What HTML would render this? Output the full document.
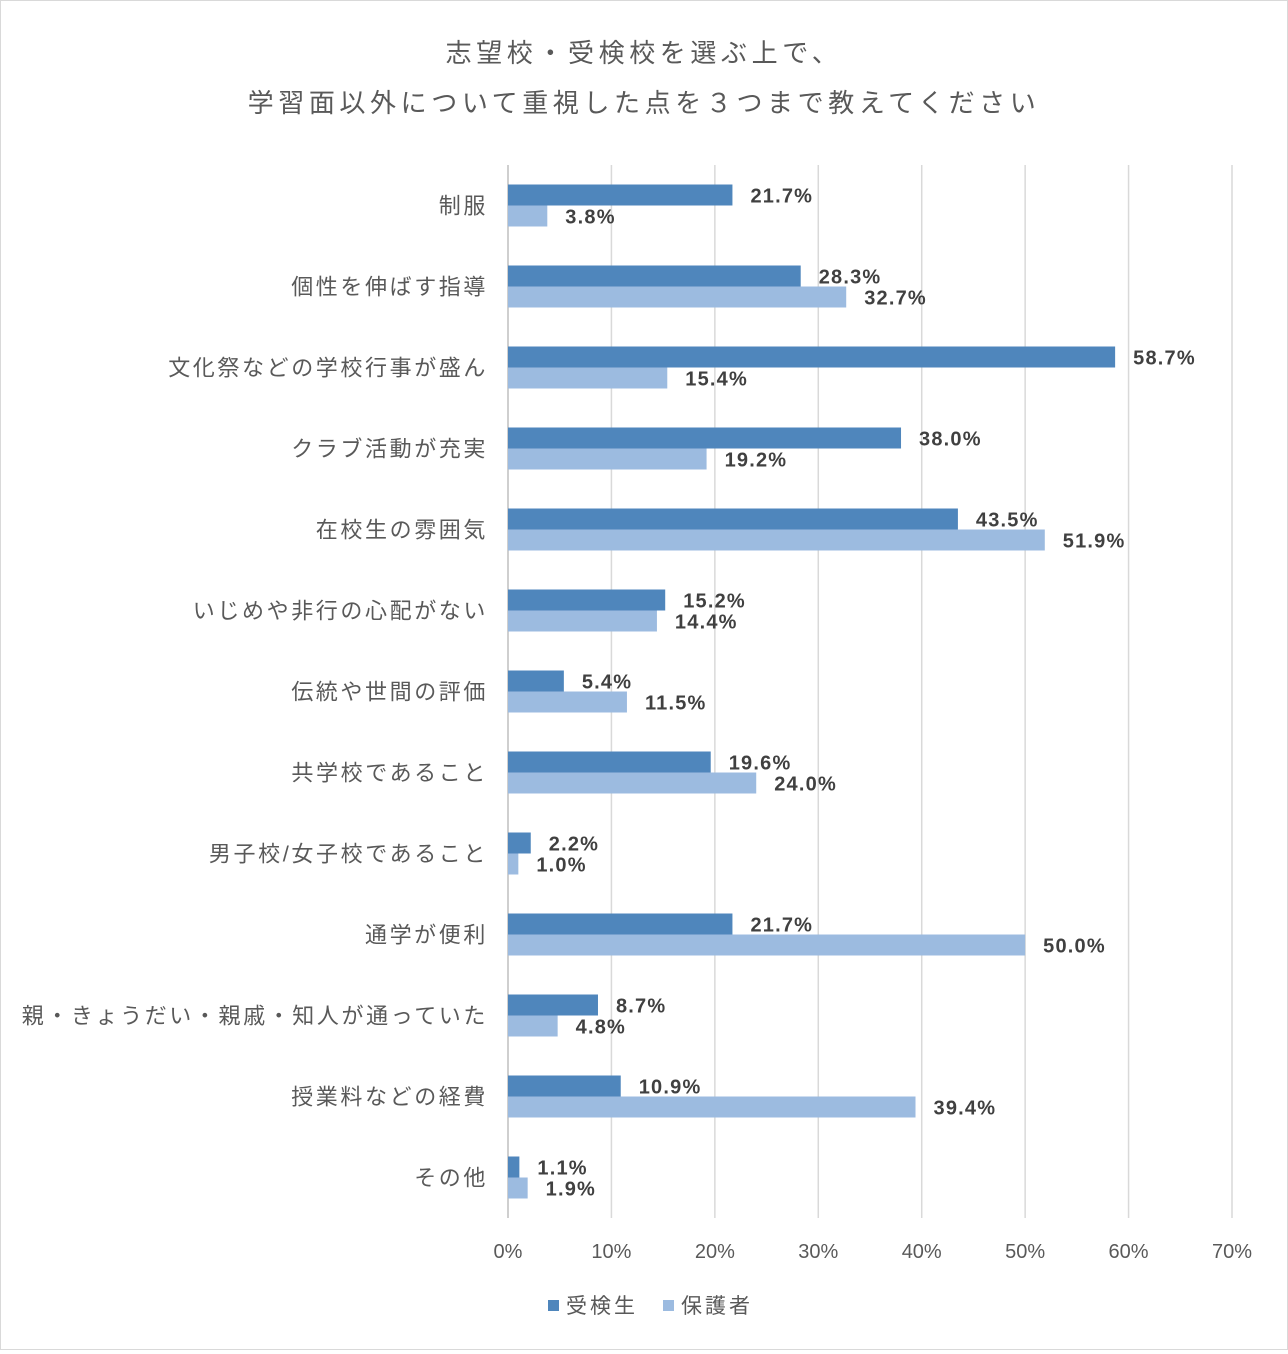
<!DOCTYPE html>
<html><head><meta charset="utf-8"><style>
html,body{margin:0;padding:0;background:#fff}
#c{position:relative;width:1286px;height:1348px;border:1px solid #d9d9d9;font-family:"Liberation Sans","Noto Sans CJK JP",sans-serif}
</style></head><body>
<div id="c">
<svg id="s" width="1286" height="1348" xmlns="http://www.w3.org/2000/svg"></svg>
</div>
<script>
const categories=["制服","個性を伸ばす指導","文化祭などの学校行事が盛ん","クラブ活動が充実","在校生の雰囲気","いじめや非行の心配がない","伝統や世間の評価","共学校であること","男子校/女子校であること","通学が便利","親・きょうだい・親戚・知人が通っていた","授業料などの経費","その他"];
const students=[21.7,28.3,58.7,38.0,43.5,15.2,5.4,19.6,2.2,21.7,8.7,10.9,1.1];
const parents=[3.8,32.7,15.4,19.2,51.9,14.4,11.5,24.0,1.0,50.0,4.8,39.4,1.9];
const ticks=[0,10,20,30,40,50,60,70];
const seriesNames=["受検生","保護者"];
const colors=["#4f86bc","#9cbbe0"];
const s=document.getElementById('s');
const NS="http://www.w3.org/2000/svg";
const x0=507,x1=1231,yTop=164,band=81,bh=21;
const X=v=>x0+(v/70)*(x1-x0);
const Y=i=>yTop+i*band+19.5;
function mk(t,a,txt){const e=document.createElementNS(NS,t);for(const k in a)e.setAttribute(k,a[k]);if(txt!==undefined)e.textContent=txt;s.appendChild(e);return e;}
let e;
e=mk('text',{x:643,y:61,'text-anchor':'middle','font-size':26,'letter-spacing':4.6,fill:'#595959'},"志望校・受検校を選ぶ上で、");

e=mk('text',{x:643,y:111,'text-anchor':'middle','font-size':26,'letter-spacing':4.6,fill:'#595959'},"学習面以外について重視した点を３つまで教えてください");

ticks.forEach(t=>{
 e=mk('line',{x1:X(t),x2:X(t),y1:yTop,y2:yTop+13*band,stroke:t===0?'#bfbfbf':'#d9d9d9','stroke-width':1.5});
 
 e=mk('text',{x:X(t),y:1257,'text-anchor':'middle','font-size':20,fill:'#595959'},t+'%');
 
});
categories.forEach((c,i)=>{
 const y=Y(i);
 e=mk('text',{x:487,y:y+bh+8,'text-anchor':'end','font-size':22,'letter-spacing':2.6,fill:'#595959'},c);
 
 [students,parents].forEach((arr,k)=>{
  const yy=y+k*bh;
  e=mk('rect',{x:X(0),y:yy,width:X(arr[i])-X(0),height:bh,fill:colors[k]});
  
  e=mk('text',{x:X(arr[i])+18,y:yy+bh-3,'font-size':20,'font-weight':'bold','letter-spacing':1.2,fill:'#404040'},arr[i].toFixed(1)+'%');
  
 });
});
const lx=[547,662];
seriesNames.forEach((n,k)=>{
 e=mk('rect',{x:lx[k],y:1299,width:11,height:11,fill:colors[k]});
 
 e=mk('text',{x:lx[k]+18,y:1312,'font-size':21,'letter-spacing':3,fill:'#595959'},n);
 
});
</script>
</body></html>
